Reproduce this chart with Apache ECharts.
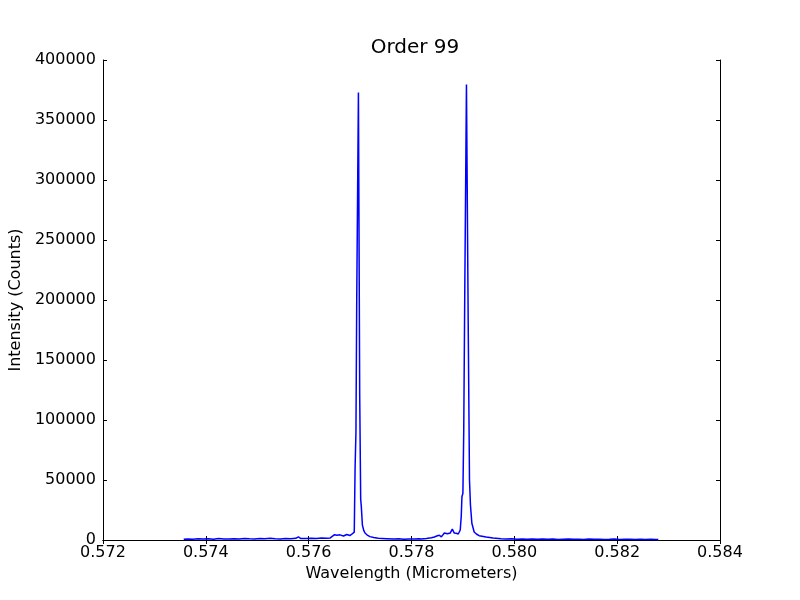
<!DOCTYPE html>
<html>
<head>
<meta charset="utf-8">
<script src="https://cdn.jsdelivr.net/npm/echarts@6/dist/echarts.min.js"></script>
<style>html,body{margin:0;padding:0;background:#fff}#c{width:800px;height:600px}</style>
</head>
<body>
<div id="c"></div>
<script>
const wavelength = [
0.57357,0.57365,0.57375,0.57385,0.57395,0.57405,0.57415,0.57425,0.57435,0.57445,
0.57455,0.57465,0.57475,0.57485,0.57495,0.57505,0.57515,0.57525,0.57535,0.57545,
0.57555,0.57565,0.57575,0.57580,0.57585,0.57595,0.57605,0.57615,0.57625,0.57635,0.57642,
0.576452,0.576504,0.576548,0.576607,0.576678,0.576742,0.576800,0.576839,0.576871,0.576887,
0.576903,0.576920,0.576935,0.576968,0.576993,0.577012,0.577024,0.577045,0.577071,0.577096,
0.577148,0.577193,0.577265,0.577354,0.577516,0.577671,
0.57775,0.57785,0.57795,0.57805,0.57815,0.57819,
0.578290,0.578387,0.578445,0.578503,0.578542,0.578581,0.578639,0.578697,0.578755,0.578794,
0.578832,0.578871,0.578910,0.578948,0.578968,0.578981,0.579000,0.579016,0.579035,0.579069,
0.579103,0.579128,0.579147,0.579174,0.579219,0.579268,0.579316,0.579452,0.579587,0.579742,
0.57985,0.57995,0.58005,0.58015,0.58025,0.58035,0.58045,0.58055,0.58065,0.58075,
0.58085,0.58095,0.58105,0.58115,0.58125,0.58135,0.58145,0.58155,0.58165,0.58175,
0.58185,0.58195,0.58205,0.58215,0.58225,0.58235,0.58245,0.58255,0.58265,0.58275,0.58280
];
const intensity = [
600,900,700,1100,800,1000,700,1200,900,800,
1100,900,1300,1000,800,1200,1000,1400,1100,900,
1300,1100,1400,2600,1200,1300,1500,1200,1600,1400,1700,
2200,4400,4000,4300,3300,4600,3700,4800,5500,6500,
60000,90000,200000,373000,120000,34000,28000,12500,8000,5800,
3800,2800,2000,1400,1100,800,
1000,700,900,800,1000,900,
1200,1800,2500,3500,4000,2600,5800,5200,5900,9000,
5800,5600,5000,8300,20000,36000,39000,90000,200000,379500,
180000,50000,29000,14000,6700,4800,3600,2500,1600,1100,
900,1100,700,900,600,800,700,900,600,800,
500,700,900,600,700,500,800,600,700,500,
600,800,500,600,700,500,600,400,600,500,400
];
const xTicks = {min: 0.572, max: 0.584, interval: 0.002};
const yTicks = {min: 0, max: 400000, interval: 50000};
const titleText = 'Order 99';
const xName = 'Wavelength (Micrometers)';
const yName = 'Intensity (Counts)';

const data = wavelength.map((w, i) => [w, intensity[i]]);
const font = 'DejaVu Sans';
const axLine = {show: true, lineStyle: {color: '#000', width: 1}};
const tick = {show: true, inside: true, length: 4, lineStyle: {color: '#000', width: 1}};

const chart = echarts.init(document.getElementById('c'), null, {renderer: 'canvas'});
chart.setOption({
  animation: false,
  backgroundColor: '#fff',
  title: {
    text: titleText, left: 410, top: 33, textAlign: 'center',
    textStyle: {fontFamily: font, fontSize: 20, fontWeight: 'normal', color: '#000'}
  },
  grid: {left: 100, right: 80, top: 60, bottom: 60},
  xAxis: [
    {type: 'value', position: 'bottom', min: xTicks.min, max: xTicks.max, interval: xTicks.interval,
     axisLine: axLine, axisTick: tick, splitLine: {show: false},
     axisLabel: {fontFamily: font, fontSize: 16, color: '#000', margin: 5, formatter: v => v.toFixed(3)},
     name: xName, nameLocation: 'middle', nameGap: 24,
     nameTextStyle: {fontFamily: font, fontSize: 16, color: '#000'}},
    {type: 'value', position: 'top', min: xTicks.min, max: xTicks.max, interval: xTicks.interval,
     axisLine: axLine, axisTick: tick, splitLine: {show: false}, axisLabel: {show: false}}
  ],
  yAxis: [
    {type: 'value', position: 'left', min: yTicks.min, max: yTicks.max, interval: yTicks.interval,
     axisLine: axLine, axisTick: tick, splitLine: {show: false},
     axisLabel: {fontFamily: font, fontSize: 16, color: '#000', margin: 7, formatter: v => String(v)},
     name: yName, nameLocation: 'middle', nameGap: 74,
     nameTextStyle: {fontFamily: font, fontSize: 16, color: '#000'}},
    {type: 'value', position: 'right', min: yTicks.min, max: yTicks.max, interval: yTicks.interval,
     axisLine: axLine, axisTick: tick, splitLine: {show: false}, axisLabel: {show: false}}
  ],
  series: [{
    type: 'line', xAxisIndex: 0, yAxisIndex: 0, data: data,
    showSymbol: false, smooth: false,
    lineStyle: {color: '#0000ff', width: 1.5},
    itemStyle: {color: '#0000ff'}
  }]
});
</script>
</body>
</html>
